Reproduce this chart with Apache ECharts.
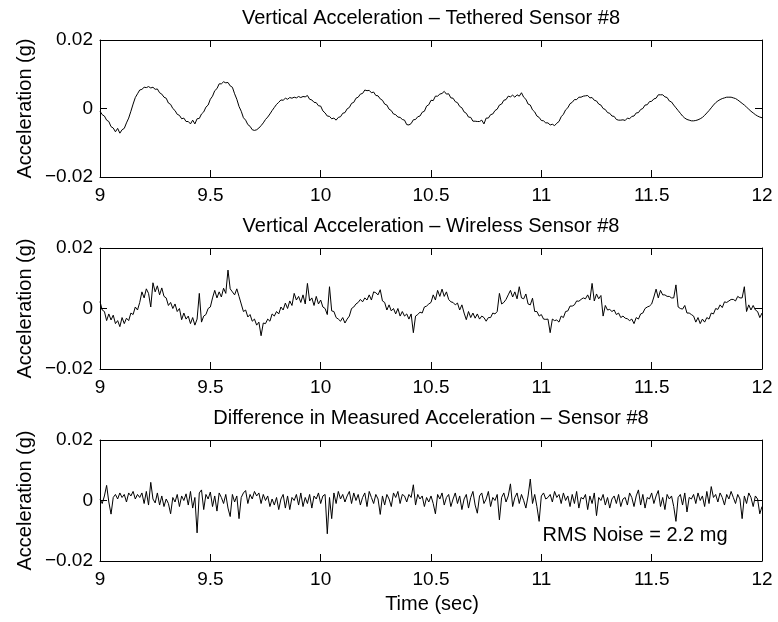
<!DOCTYPE html>
<html>
<head>
<meta charset="utf-8">
<title>Vertical Acceleration - Sensor #8</title>
<script src="https://cdn.jsdelivr.net/npm/echarts@6/dist/echarts.min.js"></script>
<style>
  html, body { margin: 0; padding: 0; background: #fff; }
  #chart { width: 778px; height: 622px; }
</style>
</head>
<body>
<div id="chart"></div>
<script>
// samples start at 9 s, one every 0.01 s, in mg
var t0 = 9;
var dt = 0.01;

var tetheredMg = [
  -0.8, -1.8, -2.2, -3.4, -3.8, -5.3, -5.7, -6.8, -5.8, -7.2,
  -6.2, -5.8, -4.2, -2.8, -0.8, 1.3, 3.2, 4.3, 5.4, 5.6,
  6.2, 6.1, 6.4, 6.0, 6.2, 5.6, 5.7, 4.6, 4.2, 3.3,
  3.0, 1.6, 1.2, 0.0, -0.6, -1.7, -2.0, -3.0, -2.8, -3.8,
  -3.8, -4.5, -3.4, -4.5, -3.0, -2.9, -1.6, -1.0, 0.4, 1.0,
  2.7, 3.6, 5.2, 5.8, 7.2, 7.2, 7.8, 7.5, 7.6, 6.6,
  6.2, 4.3, 2.7, 0.6, -0.8, -2.7, -3.4, -4.7, -5.2, -6.2,
  -6.4, -6.2, -5.7, -5.0, -4.2, -3.2, -2.5, -1.6, -0.6, 0.3,
  1.2, 1.8, 2.5, 2.4, 3.0, 2.7, 3.2, 3.0, 3.3, 3.1,
  3.5, 3.2, 3.5, 3.4, 3.8, 2.7, 2.5, 1.8, 1.7, 0.8,
  0.7, -0.7, -1.3, -2.2, -2.3, -3.0, -2.8, -3.4, -2.6, -2.4,
  -1.4, -1.2, -0.1, 0.3, 1.5, 1.8, 3.0, 3.3, 4.2, 4.4,
  5.4, 5.2, 5.3, 4.6, 4.8, 3.8, 3.7, 2.8, 2.4, 1.3,
  1.0, -0.2, -0.6, -1.6, -1.8, -2.5, -2.6, -3.2, -3.4, -4.7,
  -4.8, -4.4, -3.3, -3.2, -2.4, -2.2, -1.1, -0.8, 0.7, 1.1,
  2.4, 2.3, 3.6, 3.6, 4.2, 4.4, 5.0, 4.2, 4.3, 3.1,
  3.0, 2.0, 1.7, 0.6, 0.2, -1.0, -1.4, -2.5, -2.6, -3.7,
  -3.7, -3.8, -3.8, -3.4, -4.5, -2.8, -2.8, -1.8, -1.6, -0.6,
  -0.2, 1.0, 1.3, 2.4, 2.6, 3.6, 3.4, 3.9, 3.3, 4.0,
  3.6, 4.6, 3.3, 2.7, 1.3, 1.0, -0.4, -1.0, -2.2, -2.6,
  -3.5, -3.6, -4.2, -4.2, -4.8, -4.6, -5.0, -4.3, -3.8, -2.4,
  -1.7, -0.4, 0.2, 1.4, 1.8, 2.6, 2.6, 3.3, 3.3, 3.6,
  3.7, 3.8, 3.1, 3.2, 2.4, 2.2, 1.3, 1.0, 0.0, -0.3,
  -1.2, -1.4, -2.2, -2.3, -3.2, -3.4, -3.4, -3.3, -3.5, -2.8,
  -3.0, -2.3, -2.2, -1.3, -1.2, -0.3, 0.0, 1.0, 1.1, 2.0,
  2.1, 2.8, 3.0, 4.0, 4.0, 4.0, 3.4, 3.2, 2.2, 1.9,
  1.0, 0.2, -0.6, -1.4, -2.2, -2.8, -3.2, -3.4, -3.6, -3.6,
  -3.5, -3.3, -3.0, -2.6, -2.0, -1.3, -0.6, 0.2, 1.0, 1.7,
  2.2, 2.6, 2.9, 3.1, 3.3, 3.3, 3.3, 3.1, 2.9, 2.5,
  2.0, 1.5, 1.0, 0.4, -0.2, -0.8, -1.3, -1.8, -2.2, -2.5,
  -2.7
];

var wirelessMg = [
  2.3, -0.5, -1.0, -4.0, -1.8, -3.8, -2.2, -5.0, -4.0, -6.0,
  -3.0, -5.0, -3.2, -4.0, -1.5, -2.0, 0.5, -0.5, 2.0, 5.5,
  3.5, 6.5, 5.0, 0.5, 8.5, 5.5, 7.5, 4.5, 6.8, 4.0,
  3.5, 1.0, 2.0, 0.0, 1.5, -1.0, 0.0, -3.7, -1.5, -3.5,
  -2.5, -5.0, -3.0, -5.5, -3.5, 5.0, -4.5, -2.5, -2.0, 0.0,
  0.5, 3.5, 6.0, 3.5, 5.5, 3.8, 6.7, 5.0, 12.7, 6.5,
  5.5, 4.5, 6.5, 4.0, 1.5, -1.0, -0.5, -2.8, -2.0, -4.2,
  -3.5, -5.5, -4.5, -9.0, -4.8, -5.0, -3.5, -4.2, -1.8, -2.5,
  -1.0, -1.8, 0.5, -0.5, 1.8, 0.0, 2.5, 1.0, 5.0, 2.8,
  4.0, 2.0, 4.5, 1.5, 8.3, 2.5, 3.5, 1.0, 4.0, 1.5,
  2.8, 0.5, 0.0, -2.0, 7.2, -0.8, -1.0, -3.0, -3.5, -4.2,
  -3.0, -4.8, -3.5, -2.5, 0.0, 0.5, 1.5, 2.0, 3.0, 2.2,
  3.5, 2.8, 4.5, 2.8, 5.5, 5.2, 4.5, 6.2, 2.5, 2.0,
  -0.5, 1.2, -0.8, 0.0, -1.8, 0.0, -2.5, -1.0, -2.5, -1.8,
  -3.5, -1.8, -8.0, -2.5, -2.0, -1.2, -1.5, 0.5, 0.8, 1.5,
  2.0, 4.5, 2.8, 6.0, 4.0, 6.4, 4.0, 5.5, 3.0, 2.2,
  2.0, 1.2, 1.8, -0.5, 1.2, -1.5, -3.7, -1.0, -3.0, -1.5,
  -3.2, -1.8, -3.5, -2.5, -3.0, -4.2, -3.0, -3.0, -1.5, -1.8,
  -1.0, 5.0, 1.5, 2.0, 3.0, 4.5, 6.0, 3.8, 5.5, 3.2,
  7.2, 3.5, 3.2, 4.8, 1.5, 1.2, 3.4, -1.0, -1.0, -2.5,
  -2.0, -3.5, -3.6, -3.5, -8.0, -3.5, -4.0, -3.8, -4.5, -2.5,
  -3.0, -1.0, -0.8, 0.8, 0.8, 1.2, 2.5, 2.4, 3.0, 3.5,
  3.2, 4.5, 2.8, 8.3, 2.5, 4.8, 3.2, 4.3, -2.5, 1.0,
  -0.5, -0.3, -1.0, -0.5, -2.0, -1.5, -3.0, -2.5, -3.2, -3.4,
  -4.0, -3.5, -5.0, -3.0, -3.5, -1.8, -1.5, 0.0, 0.5, 0.8,
  1.5, 3.8, 6.4, 3.5, 6.0, 4.5, 4.5, 4.0, 4.0, 3.5,
  3.5, 7.8, 0.5, 0.0, -0.2, 1.0, -1.5, -1.5, -2.0, -2.5,
  -4.5, -3.0, -5.0, -3.5, -4.5, -3.0, -3.5, -1.5, -1.8, 0.0,
  -0.3, 1.2, 0.3, 2.2, 2.0, 2.5, 3.0, 3.0, 2.5, 4.0,
  3.5, 3.5, 7.2, -1.0, 1.2, -0.5, 1.0, -0.5, -1.0, -3.0,
  -1.5
];

var differenceMg = [
  0.5, -1.0, 1.5, 5.0, -0.5, -4.5, 1.0, 2.0, 0.5, 2.5,
  1.0, 2.0, -0.5, 2.5, 1.5, 3.0, 0.5, 2.0, 1.0, 2.5,
  -1.0, 3.0, -1.5, 6.0, 0.5, -0.8, 2.5, -1.5, 1.5, -2.0,
  0.5, -1.0, -4.4, 1.0, -0.5, 2.0, -2.0, 1.5, 0.0, 2.2,
  -1.5, 3.0, -2.5, 1.0, -10.7, 2.5, 3.5, -3.0, 2.0, 0.5,
  2.8, -2.0, 1.5, -3.5, 2.5, 1.0, -1.0, 2.0, -2.5, -5.3,
  2.0, -0.5, 1.5, -6.0, 1.0, 2.5, 3.3, -1.0, 2.0, 0.5,
  3.0, 1.5, 2.5, -1.0, 2.0, 0.0, 1.5, -2.0, 0.5, -1.5,
  1.0, -3.0, 0.5, 2.0, -2.5, 1.5, -3.0, 1.0, 0.0, 2.0,
  -1.5, 2.5, -2.0, 1.0, -1.0, 2.0, -2.5, 1.5, 0.5, 2.5,
  -1.0, 1.5, 2.0, -11.0, 1.0, -6.0, 2.5, -1.0, 3.0, 0.5,
  2.0, -0.5, 1.5, 3.0, -1.0, 2.5, 0.0, 2.0, -1.5, 1.0,
  2.5, -2.0, 3.0, 1.0, -1.0, 2.0, 0.5, -4.6, 1.5, -1.5,
  2.0, 0.5, -2.0, 2.5, 1.0, 3.0, -1.0, 2.0, 1.5, -0.5,
  2.0, 1.0, 5.2, -1.5, 2.0, 0.5, 1.5, -2.0, 1.0, -0.5,
  1.5, -1.0, -4.4, 2.0, 0.5, 2.5, -1.5, 1.0, 2.0, -2.0,
  0.5, 2.5, -1.0, 1.5, -3.0, 0.5, 2.0, -2.5, 1.0, 3.0,
  -1.5, -4.2, 1.5, 2.5, -1.0, 0.5, 3.0, -2.0, 1.0, 0.0,
  2.0, -6.4, 1.0, 2.5, -0.5, 1.5, 5.5, -2.0, 1.0, 2.5,
  -1.0, 2.0, 0.0, -2.5, 1.5, 7.1, -1.0, 2.0, -2.0, -6.9,
  1.5, 2.5, 0.5, 1.0, 2.0, -0.5, 3.0, 1.0, 2.0, -1.0,
  2.5, 0.0, 1.5, -2.0, 2.0, -1.0, 3.0, -2.5, 1.0, 0.5,
  2.0, -3.0, 1.5, -1.0, 2.5, -5.0, 1.0, 0.0, 2.0, -1.5,
  1.0, -2.5, 0.5, 1.5, -1.0, 2.0, -2.0, 0.5, 1.0, -1.5,
  2.5, 1.0, -2.0, 1.5, 3.5, -1.5, 2.0, -2.5, 1.0, 0.5,
  2.5, -1.0, 1.5, 3.3, -2.0, 1.0, -3.0, 2.0, 0.5, 1.5,
  -2.0, -6.9, 1.0, 2.0, -1.5, 2.5, -3.8, 1.0, 0.5, 2.0,
  -1.0, 2.5, 0.0, 1.5, -2.0, 3.0, -1.0, 4.6, 1.0, 2.0,
  -0.5, 2.5, 1.0, -1.5, 2.0, 0.5, 3.0, 1.0, -1.0, 2.0,
  0.5, -6.0, 1.5, -1.0, 2.5, 1.0, -2.0, 1.5, 0.5, -4.4,
  -2.0
];

var titles = [
  'Vertical Acceleration \u2013 Tethered Sensor #8',
  'Vertical Acceleration \u2013 Wireless Sensor #8',
  'Difference in Measured Acceleration \u2013 Sensor #8'
];
var yName = 'Acceleration (g)';
var xName = 'Time (sec)';
var note = 'RMS Noise = 2.2 mg';

var FONT = '"Liberation Sans", Arial, Helvetica, sans-serif';
var FS_TEXT = 20;
var FS_TICK = 19;

function toPairs(arr) {
  return arr.map(function (v, i) {
    return [+(t0 + i * dt).toFixed(2), v / 1000];
  });
}

function yLabel(v) {
  if (Math.abs(v) < 1e-9) return '0';
  return (v < 0 ? '\u2212' : '') + Math.abs(v).toFixed(2);
}

// grid boxes, px
var grids = [
  {left: 100, right: 16, top: 40, height: 137},
  {left: 100, right: 16, top: 248, height: 121},
  {left: 100, right: 16, top: 440, height: 121}
];

var xAxes = [], yAxes = [];
grids.forEach(function (g, i) {
  var common = {
    gridIndex: i,
    axisLine: {show: true, onZero: false, lineStyle: {color: '#000', width: 1}},
    axisTick: {show: true, inside: true, length: 7, lineStyle: {color: '#000', width: 1}},
    splitLine: {show: false}
  };
  xAxes.push(Object.assign({}, common, {
    type: 'value', position: 'bottom', min: 9, max: 12, interval: 0.5,
    axisLabel: {color: '#000', fontFamily: FONT, fontSize: FS_TICK, margin: 9}
  }));
  xAxes.push(Object.assign({}, common, {
    type: 'value', position: 'top', min: 9, max: 12, interval: 0.5,
    axisLabel: {show: false}
  }));
  yAxes.push(Object.assign({}, common, {
    type: 'value', position: 'left', min: -0.02, max: 0.02, interval: 0.02,
    axisLabel: {color: '#000', fontFamily: FONT, fontSize: FS_TICK, margin: 7, formatter: yLabel}
  }));
  yAxes.push(Object.assign({}, common, {
    type: 'value', position: 'right', min: -0.02, max: 0.02, interval: 0.02,
    axisLabel: {show: false}
  }));
});

var seriesData = [tetheredMg, wirelessMg, differenceMg];
var series = seriesData.map(function (arr, i) {
  return {
    type: 'line',
    xAxisIndex: i * 2,
    yAxisIndex: i * 2,
    data: toPairs(arr),
    showSymbol: false,
    symbol: 'none',
    lineStyle: {color: '#000', width: 1},
    animation: false
  };
});

var graphics = [];
grids.forEach(function (g, i) {
  graphics.push({
    type: 'text', x: 431, y: g.top - 22,
    style: {text: titles[i], fill: '#000', font: FS_TEXT + 'px ' + FONT, align: 'center', verticalAlign: 'middle'}
  });
  graphics.push({
    type: 'text', x: 25, y: g.top + g.height / 2, rotation: Math.PI / 2,
    style: {text: yName, fill: '#000', font: FS_TEXT + 'px ' + FONT, align: 'center', verticalAlign: 'middle'}
  });
});
graphics.push({
  type: 'text', x: 432, y: 604,
  style: {text: xName, fill: '#000', font: FS_TEXT + 'px ' + FONT, align: 'center', verticalAlign: 'middle'}
});
graphics.push({
  type: 'text', x: 635, y: 535,
  style: {text: note, fill: '#000', font: FS_TEXT + 'px ' + FONT, align: 'center', verticalAlign: 'middle'}
});

var chart = echarts.init(document.getElementById('chart'), null, {renderer: 'canvas'});
chart.setOption({
  backgroundColor: '#fff',
  animation: false,
  grid: grids,
  xAxis: xAxes,
  yAxis: yAxes,
  series: series,
  graphic: graphics
});
</script>
</body>
</html>
